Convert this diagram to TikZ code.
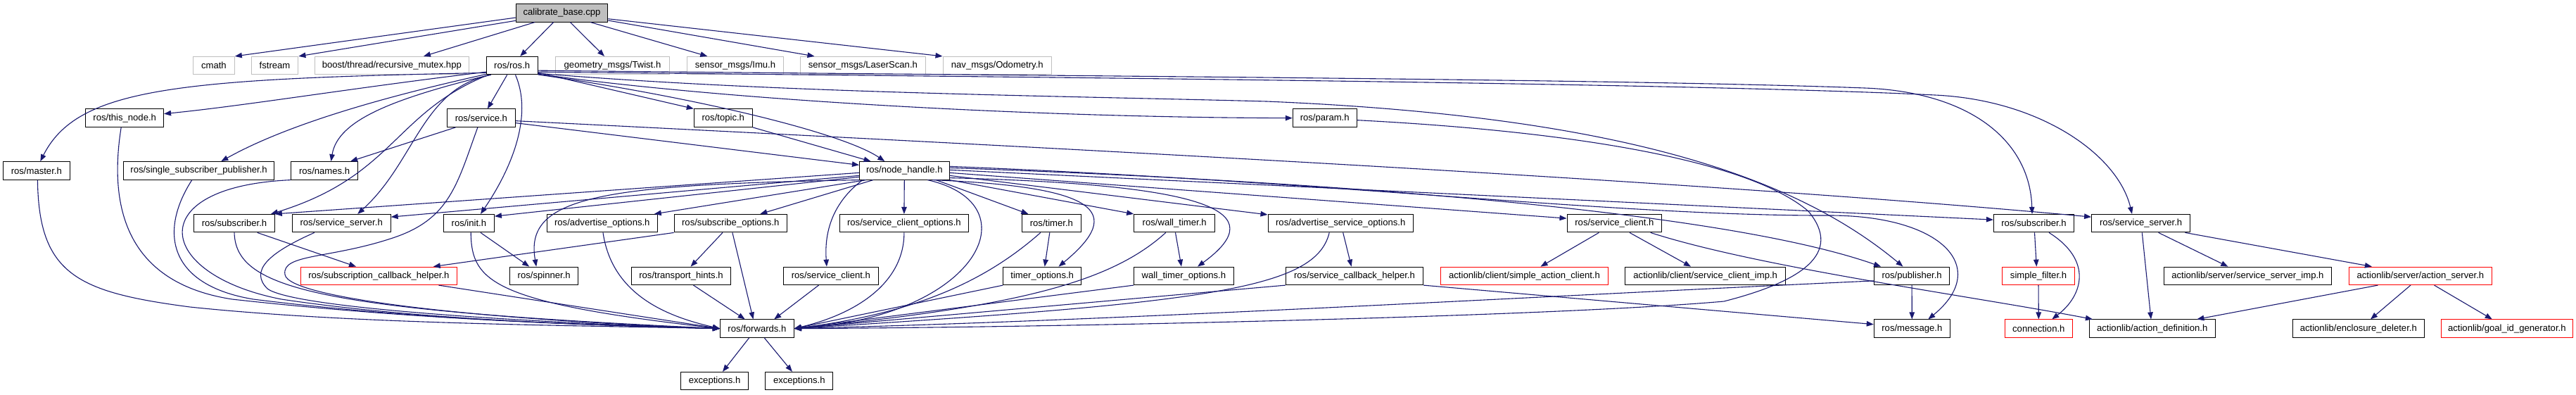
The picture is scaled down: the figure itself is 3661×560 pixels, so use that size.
\documentclass[tikz,border=0pt]{standalone}
\usepackage{fontspec}
\setmainfont{Liberation Sans}
\usetikzlibrary{arrows.meta}
\definecolor{mblue}{HTML}{191970}
\definecolor{sysgray}{HTML}{BFBFBF}
\newcommand{\diagfont}{\fontsize{13.1}{15}\selectfont}
\begin{document}
\begin{tikzpicture}[x=1pt,y=-1pt,
 box/.style={draw=black,line width=1pt,minimum height=25.5pt,inner sep=0pt,font=\diagfont},
 sysbox/.style={box,draw=sysgray},
 redbox/.style={box,draw=red},
 rootbox/.style={box,fill=sysgray},
 dep/.style={draw=mblue,line width=1.1pt,-{Triangle[length=10pt,width=7.5pt]}}]
\fill[white] (0,0) rectangle (3661,560);
\useasboundingbox (0,0) rectangle (3661,560);
% row 1
\node[rootbox,minimum width=130.5pt] (cal) at (798.5,18.35) {calibrate\_base.cpp};
% row 2
\node[sysbox,minimum width=58.9pt] (cmath) at (303.9,93.15) {cmath};
\node[sysbox,minimum width=66.8pt] (fstream) at (390.5,93.15) {fstream};
\node[sysbox,minimum width=218.4pt] (boost) at (556.8,93.15) {boost/thread/recursive\_mutex.hpp};
\node[box,minimum width=72.8pt] (ros) at (727.7,93.15) {ros/ros.h};
\node[sysbox,minimum width=162.9pt] (twist) at (870.5,93.15) {geometry\_msgs/Twist.h};
\node[sysbox,minimum width=137.2pt] (imu) at (1045,93.15) {sensor\_msgs/Imu.h};
\node[sysbox,minimum width=177.4pt] (laser) at (1226.4,93.15) {sensor\_msgs/LaserScan.h};
\node[sysbox,minimum width=154.6pt] (odom) at (1417.3,93.15) {nav\_msgs/Odometry.h};
% row 3
\node[box,minimum width=110.7pt] (thisnode) at (177.2,167.65) {ros/this\_node.h};
\node[box,minimum width=97.3pt] (service) at (683.9,167.65) {ros/service.h};
\node[box,minimum width=83pt] (topic) at (1027.8,167.65) {ros/topic.h};
\node[box,minimum width=90.9pt] (param) at (1882.7,167.65) {ros/param.h};
% row 4
\node[box,minimum width=94.9pt] (master) at (51.8,242.35) {ros/master.h};
\node[box,minimum width=214.7pt] (ssp) at (282.6,242.35) {ros/single\_subscriber\_publisher.h};
\node[box,minimum width=94.9pt] (names) at (461.1,242.35) {ros/names.h};
\node[box,minimum width=127.7pt] (nh) at (1285.3,242.35) {ros/node\_handle.h};
% row 5
\node[box,minimum width=114.7pt] (subA) at (333,317.15) {ros/subscriber.h};
\node[box,minimum width=139.9pt] (ssA) at (485.2,317.15) {ros/service\_server.h};
\node[box,minimum width=72pt] (init) at (666.4,317.15) {ros/init.h};
\node[box,minimum width=157.4pt] (advopt) at (855.8,317.15) {ros/advertise\_options.h};
\node[box,minimum width=160.2pt] (subopt) at (1038.3,317.15) {ros/subscribe\_options.h};
\node[box,minimum width=183.6pt] (scopt) at (1284.9,317.15) {ros/service\_client\_options.h};
\node[box,minimum width=84.2pt] (timer) at (1494.4,317.15) {ros/timer.h};
\node[box,minimum width=115.1pt] (wtimer) at (1669.2,317.15) {ros/wall\_timer.h};
\node[box,minimum width=206.4pt] (advsopt) at (1905.2,317.15) {ros/advertise\_service\_options.h};
\node[box,minimum width=134.8pt] (scB) at (2294.4,317.15) {ros/service\_client.h};
\node[box,minimum width=114.2pt] (subB) at (2890.5,317.15) {ros/subscriber.h};
\node[box,minimum width=140.1pt] (ssB) at (3042.6,317.15) {ros/service\_server.h};
% row 6
\node[redbox,minimum width=222.8pt] (sch) at (538.4,391.85) {ros/subscription\_callback\_helper.h};
\node[box,minimum width=97.3pt] (spinner) at (773.2,391.85) {ros/spinner.h};
\node[box,minimum width=141.1pt] (thints) at (968,391.85) {ros/transport\_hints.h};
\node[box,minimum width=134.6pt] (sc6) at (1180.9,391.85) {ros/service\_client.h};
\node[box,minimum width=110.7pt] (topt) at (1481.2,391.85) {timer\_options.h};
\node[box,minimum width=141.6pt] (wtopt) at (1682.4,391.85) {wall\_timer\_options.h};
\node[box,minimum width=195.3pt] (scbh) at (1925,391.85) {ros/service\_callback\_helper.h};
\node[redbox,minimum width=238.8pt] (sac) at (2166.5,391.85) {actionlib/client/simple\_action\_client.h};
\node[box,minimum width=227.9pt] (scimp) at (2423.7,391.85) {actionlib/client/service\_client\_imp.h};
\node[box,minimum width=106.8pt] (pub) at (2717.1,391.85) {ros/publisher.h};
\node[redbox,minimum width=102.8pt] (sfilter) at (2897,391.85) {simple\_filter.h};
\node[box,minimum width=238.7pt] (ssimp) at (3194.4,391.85) {actionlib/server/service\_server\_imp.h};
\node[redbox,minimum width=202.8pt] (aserver) at (3439.9,391.85) {actionlib/server/action\_server.h};
% row 7
\node[box,minimum width=104.8pt] (fwd) at (1075.9,466.65) {ros/forwards.h};
\node[box,minimum width=108pt] (msg) at (2717.3,466.65) {ros/message.h};
\node[redbox,minimum width=96.1pt] (conn) at (2897.3,466.65) {connection.h};
\node[box,minimum width=178.6pt] (adef) at (3058.7,466.65) {actionlib/action\_definition.h};
\node[box,minimum width=186.8pt] (encl) at (3351.8,466.65) {actionlib/enclosure\_deleter.h};
\node[redbox,minimum width=187.2pt] (goal) at (3562.8,466.65) {actionlib/goal\_id\_generator.h};
% row 8
\node[box,minimum width=95.7pt] (exc1) at (1015.6,541.15) {exceptions.h};
\node[box,minimum width=95.7pt] (exc2) at (1135.8,541.15) {exceptions.h};

% calibrate_base.cpp
\draw[dep] ([yshift=-6.7pt]cal.west) -- (cmath.north east);
\draw[dep] ([yshift=-11pt]cal.west) -- (fstream.north east);
\draw[dep] ([xshift=-38.5pt]cal.south) -- ([xshift=45.2pt]boost.north);
\draw[dep] ([xshift=-11.9pt]cal.south) -- ([xshift=11.5pt]ros.north);
\draw[dep] ([xshift=11.9pt]cal.south) -- ([xshift=-11.5pt]twist.north);
\draw[dep] ([xshift=40.7pt]cal.south) -- ([xshift=-39.7pt]imu.north);
\draw[dep] ([yshift=-10.7pt]cal.east) -- ([xshift=-68.9pt]laser.north);
\draw[dep] ([yshift=-8.4pt]cal.east) -- (odom.north west);

% ros/ros.h
\draw[dep] ([yshift=3pt]ros.south west) .. controls (250,112) and (110,125) .. ([xshift=5.5pt]master.north);
\draw[dep] ([yshift=-9pt]ros.west) .. controls (500,125) and (350,150) .. ([yshift=6pt]thisnode.east);
\draw[dep] ([yshift=1pt]ros.south west) .. controls (580,130) and (420,170) .. ([xshift=31.7pt]ssp.north);
\draw[dep] ([xshift=5pt]ros.south west) .. controls (560,140) and (480,170) .. ([xshift=9.4pt]names.north);
\draw[dep] ([xshift=-7pt]ros.south) -- ([xshift=9pt]service.north);
\draw[dep] ([yshift=-10pt]ros.east) -- (topic.north west);
\draw[dep] ([yshift=-12pt]ros.east) .. controls (1050,145) and (1500,167) .. (param.west);
\draw[dep] ([yshift=-11pt]ros.east) .. controls (1100,132) and (1500,136) .. (1800,144) .. controls (2300,165) and (2550,250) .. ([xshift=-12.6pt]pub.north);
\draw[dep] ([yshift=-7pt]ros.east) .. controls (1500,108) and (2300,112) .. (2650,125) .. controls (2800,130.6) and (2885,200) .. ([xshift=-2.5pt]subB.north);
\draw[dep] ([yshift=-9pt]ros.east) .. controls (1500,110) and (2400,118) .. (2750,135) .. controls (2900,142) and (3010,220) .. ([xshift=-12.6pt]ssB.north);
\draw[dep] ([yshift=-12.8pt]ros.east) .. controls (1000,140) and (1200,190) .. ([xshift=-28pt]nh.north);
\draw[dep] ([xshift=3pt]ros.south west) .. controls (560,160) and (560,250) .. ([xshift=52pt]subA.north);
\draw[dep] ([xshift=7pt]ros.south west) .. controls (600,125) and (590,230) .. ([xshift=23pt]ssA.north);
\draw[dep] ([xshift=4.8pt]ros.south) .. controls (760,170) and (720,250) .. ([xshift=16.6pt]init.north);

% ros/service.h
\draw[dep] ([xshift=-36.5pt]service.south) -- ([xshift=37pt]names.north);
\draw[dep] ([yshift=-7pt]service.east) -- ([yshift=8pt]nh.west);
\draw[dep] ([yshift=-4pt]service.east) .. controls (1400,205) and (2400,255) .. ([yshift=9pt]ssB.west);
\draw[dep] ([xshift=-5pt]service.south) .. controls (650,260) and (640,310) .. (561,337) .. controls (470,368) and (400,360) .. (405,390) .. controls (410,425) and (700,455) .. (fwd.west);

% ros/topic.h, ros/param.h
\draw[dep] (topic.south east) -- ([xshift=-47.7pt]nh.north);
\draw[dep] ([yshift=-3pt]param.east) .. controls (2300,190) and (2500,240) .. (2570,300) .. controls (2620,360) and (2560,400) .. (2450,428) .. controls (2200,450) and (1500,465) .. (fwd.east);

% left group into ros/forwards.h
\draw[dep] ([xshift=1.6pt]master.south) .. controls (55,390) and (110,415) .. (270,436) .. controls (500,460) and (800,462) .. (fwd.west);
\draw[dep] ([xshift=-5pt]thisnode.south) .. controls (150,320) and (200,405) .. (330,425) .. controls (600,455) and (850,462) .. (fwd.west);
\draw[dep] ([xshift=-9.8pt]ssp.south) .. controls (225,330) and (240,405) .. (360,425) .. controls (600,455) and (850,462) .. (fwd.west);
\draw[dep] (names.south west) .. controls (200,265) and (220,390) .. (400,425) .. controls (600,455) and (850,462) .. (fwd.west);
\draw[dep] (subA.south) .. controls (335,410) and (450,440) .. (fwd.west);
\draw[dep] ([xshift=32.7pt]subA.south) -- ([xshift=-32.4pt]sch.north);
\draw[dep] ([xshift=-38.4pt]ssA.south) .. controls (380,360) and (355,385) .. (380,410) .. controls (420,440) and (800,460) .. (fwd.west);
\draw[dep] ([xshift=2.8pt]init.south) .. controls (670,400) and (700,430) .. (fwd.west);
\draw[dep] ([xshift=16.6pt]init.south) -- ([xshift=-21pt]spinner.north);
\draw[dep] ([xshift=85pt]sch.south) -- (fwd.west);
\draw[dep] ([xshift=1.2pt]advopt.south) .. controls (870,420) and (950,450) .. (fwd.west);

% ros/node_handle.h
\draw[dep] ([yshift=-3pt]nh.west) -- (subA.north east);
\draw[dep] ([yshift=-7pt]nh.west) -- ([yshift=9pt]ssA.east);
\draw[dep] ([yshift=-9pt]nh.west) -- ([yshift=10pt]init.east);
\draw[dep] (nh.south west) .. controls (850,262) and (745,280) .. ([xshift=-11pt]spinner.north);
\draw[dep] ([xshift=10pt]nh.south west) -- ([xshift=74pt]advopt.north);
\draw[dep] ([xshift=20pt]nh.south west) -- ([xshift=42pt]subopt.north);
\draw[dep] ([xshift=5pt]nh.south west) .. controls (1200,275) and (1170,310) .. ([xshift=-6pt]sc6.north);
\draw[dep] (nh.south) -- (scopt.north);
\draw[dep] ([xshift=33pt]nh.south) .. controls (1470,290) and (1390,450) .. (fwd.east);
\draw[dep] ([xshift=45pt]nh.south) -- ([xshift=-33pt]timer.north);
\draw[dep] ([xshift=40pt]nh.south) .. controls (1560,265) and (1600,300) .. ([xshift=23.3pt]topt.north);
\draw[dep] (nh.south east) -- (wtimer.north west);
\draw[dep] ([yshift=3pt]nh.south east) .. controls (1720,262) and (1810,300) .. ([xshift=19.6pt]wtopt.north);
\draw[dep] ([yshift=-7pt]nh.east) -- ([yshift=-1pt]advsopt.north west);
\draw[dep] ([yshift=-3pt]nh.east) -- ([yshift=7pt]scB.west);
\draw[dep] ([yshift=1pt]nh.east) -- ([yshift=5pt]subB.west);
\draw[dep] ([yshift=4pt]nh.east) .. controls (1900,258) and (2450,300) .. ([xshift=-44pt]pub.north);
\draw[dep] ([yshift=6pt]nh.east) .. controls (1900,258) and (2300,307) .. (2600,306) .. controls (2760,306) and (2830,380) .. ([xshift=23pt]msg.north);

% middle rows into ros/forwards.h
\draw[dep] (subopt.south west) -- ([xshift=77.4pt]sch.north);
\draw[dep] ([xshift=-11.3pt]subopt.south) -- ([xshift=13.6pt]thints.north);
\draw[dep] ([xshift=2.6pt]subopt.south) -- ([xshift=-5.4pt]fwd.north);
\draw[dep] ([xshift=17.5pt]thints.south) -- ([xshift=-17.2pt]fwd.north);
\draw[dep] ([xshift=-17.4pt]sc6.south) -- ([xshift=24.3pt]fwd.north);
\draw[dep] (scopt.south) .. controls (1285,400) and (1220,445) .. (fwd.east);
\draw[dep] ([xshift=-2.6pt]timer.south) -- ([xshift=3.5pt]topt.north);
\draw[dep] ([xshift=-15.6pt]timer.south) .. controls (1400,400) and (1300,445) .. (fwd.east);
\draw[dep] (topt.south west) -- (fwd.east);
\draw[dep] ([xshift=1.3pt]wtimer.south) -- ([xshift=-3.4pt]wtopt.north);
\draw[dep] ([xshift=-12.5pt]wtimer.south) .. controls (1580,400) and (1450,435) .. (fwd.east);
\draw[dep] (wtopt.south west) -- (fwd.east);
\draw[dep] ([xshift=3.5pt]advsopt.south) -- ([xshift=-4.4pt]scbh.north);
\draw[dep] ([xshift=-16pt]advsopt.south) .. controls (1870,410) and (1720,430) .. (fwd.east);
\draw[dep] (scbh.south west) -- (fwd.east);
\draw[dep] (scbh.south east) -- ([yshift=6pt]msg.west);
\draw[dep] ([yshift=-7pt]pub.west) .. controls (2200,420) and (1600,455) .. (fwd.east);
\draw[dep] (pub.south) -- (msg.north);
\draw[dep] ([xshift=-11.3pt]fwd.south) -- ([xshift=11.4pt]exc1.north);
\draw[dep] ([xshift=10.4pt]fwd.south) -- ([xshift=-9.9pt]exc2.north);

% right part
\draw[dep] ([xshift=-22pt]scB.south) -- ([xshift=23pt]sac.north);
\draw[dep] ([xshift=21.6pt]scB.south) -- ([xshift=-20.7pt]scimp.north);
\draw[dep] ([xshift=51.3pt]scB.south) .. controls (2500,380) and (2800,420) .. ([xshift=5pt]adef.north west);
\draw[dep] ([xshift=1pt]subB.south) -- ([xshift=-2.7pt]sfilter.north);
\draw[dep] ([xshift=21.5pt]subB.south) .. controls (2975,370) and (2960,420) .. ([xshift=19pt]conn.north);
\draw[dep] (sfilter.south) -- (conn.north);
\draw[dep] ([xshift=25pt]ssB.south) -- ([xshift=-28pt]ssimp.north);
\draw[dep] ([xshift=62.8pt]ssB.south) -- ([xshift=-69pt]aserver.north);
\draw[dep] ([xshift=1.7pt]ssB.south) -- ([xshift=-1.7pt]adef.north);
\draw[dep] ([xshift=-60.5pt]aserver.south) -- ([xshift=63.6pt]adef.north);
\draw[dep] ([xshift=-14pt]aserver.south) -- ([xshift=17.2pt]encl.north);
\draw[dep] ([xshift=19.6pt]aserver.south) -- ([xshift=-21pt]goal.north);
\end{tikzpicture}
\end{document}
